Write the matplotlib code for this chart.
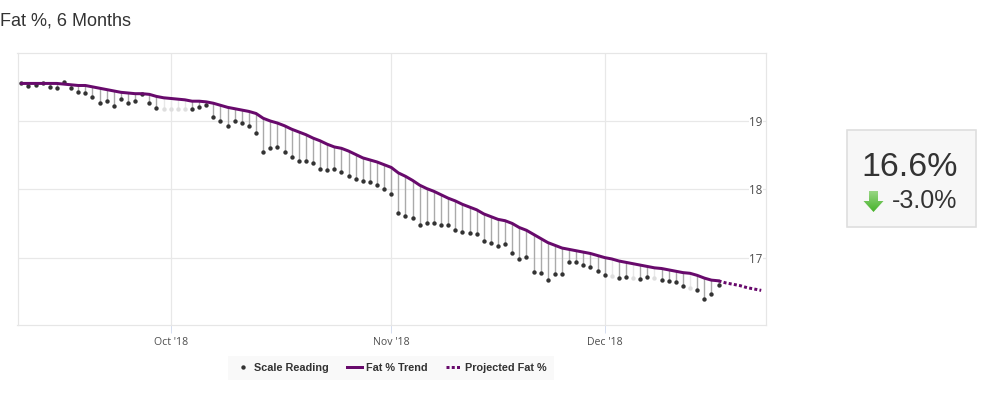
import numpy as np
import pandas as pd
import matplotlib
matplotlib.use("Agg")
import matplotlib.pyplot as plt
import matplotlib.dates as mdates
from matplotlib.lines import Line2D
from matplotlib.patches import Rectangle, Polygon

W, H = 999, 393

title_text = "Fat %, 6 Months"
series_labels = ["Scale Reading", "Fat % Trend", "Projected Fat %"]
current_value = "16.6%"
change_value = "-3.0%"

start_date = "2018-09-10"
projection_start = "2018-12-17"

readings = [
    19.55,19.51,19.53,19.56,19.50,19.49,19.57,19.49,19.42,19.41,
    19.35,19.27,19.29,19.22,19.32,19.26,19.30,19.40,19.26,19.19,
    19.18,19.18,19.18,19.18,19.18,19.20,19.23,19.06,19.00,18.92,
    19.00,18.97,18.93,18.82,18.54,18.60,18.62,18.54,18.48,18.42,
    18.41,18.39,18.30,18.28,18.30,18.26,18.19,18.15,18.12,18.10,
    18.06,18.00,17.93,17.66,17.61,17.58,17.48,17.50,17.51,17.48,
    17.48,17.41,17.37,17.36,17.35,17.25,17.21,17.17,17.20,17.06,
    16.98,17.01,16.79,16.78,16.67,16.76,16.76,16.93,16.93,16.89,
    16.86,16.81,16.75,16.73,16.70,16.71,16.70,16.69,16.72,16.70,
    16.67,16.65,16.64,16.59,16.56,16.53,16.39,16.47,16.60,
]
trend = [
    19.55,19.55,19.55,19.55,19.55,19.55,19.54,19.53,19.52,19.52,
    19.50,19.48,19.46,19.44,19.42,19.41,19.40,19.40,19.39,19.36,
    19.34,19.33,19.32,19.31,19.29,19.29,19.28,19.26,19.23,19.20,
    19.18,19.16,19.14,19.11,19.04,19.00,18.97,18.93,18.88,18.84,
    18.80,18.75,18.71,18.66,18.62,18.60,18.56,18.51,18.46,18.43,
    18.40,18.36,18.32,18.24,18.19,18.13,18.06,18.01,17.97,17.92,
    17.87,17.83,17.78,17.74,17.70,17.64,17.60,17.56,17.54,17.50,
    17.44,17.40,17.34,17.28,17.22,17.18,17.14,17.12,17.10,17.08,
    17.06,17.03,17.00,16.98,16.95,16.93,16.91,16.89,16.87,16.85,
    16.84,16.82,16.80,16.78,16.77,16.74,16.70,16.67,16.66,
]
projected = [16.66,16.63,16.61,16.59,16.56,16.54,16.52]
# readings drawn faint in the reference (days without a weigh-in)
faint_positions = [20,21,22,23,83,86,89,94]

dates = pd.date_range(start_date, periods=len(readings), freq="D")
proj_dates = pd.date_range(projection_start, periods=len(projected), freq="D")
readings_a = np.array(readings)
trend_a = np.array(trend)
faint = np.zeros(len(readings), dtype=bool)
faint[faint_positions] = True

PURPLE = "#680a6c"
DOT = "#333333"
GRID = "#e8e8e8"
px = 72 / 100

fig = plt.figure(figsize=(W / 100, H / 100), dpi=100, facecolor="white")
L, R, T, B = 17.5, 765.7, 52.7, 325.0
ax = fig.add_axes([L / W, 1 - B / H, (R - L) / W, (B - T) / H])

ax.vlines(dates[~faint], readings_a[~faint], trend_a[~faint], color="#aaaaaa", lw=1.4 * px, zorder=2)
ax.vlines(dates[faint], readings_a[faint], trend_a[faint], color="#e8e8e8", lw=1.4 * px, zorder=2)
ax.plot(dates[~faint], readings_a[~faint], ls="none", marker="o", ms=4.4 * px, color=DOT, mew=0, zorder=3)
ax.plot(dates[faint], readings_a[faint], ls="none", marker="o", ms=4.4 * px, color="#dedede", mew=0, zorder=3)
ax.plot(dates, trend_a, color=PURPLE, lw=3 * px, solid_capstyle="round", solid_joinstyle="round", zorder=4)
ax.plot(proj_dates, projected, color=PURPLE, lw=3 * px, ls=(0, (1, 0.75)), dash_capstyle="butt", zorder=4)

ax.set_xlim(dates[0] - pd.Timedelta(days=0.53), dates[0] + pd.Timedelta(days=104.63))
ax.set_ylim(16.013, 20.0)
ax.xaxis.set_major_locator(mdates.MonthLocator())
ax.xaxis.set_major_formatter(mdates.DateFormatter("%b '%y"))
ax.set_yticks([17, 18, 19])
ax.yaxis.tick_right()
ax.grid(True, color=GRID, lw=1.2 * px, zorder=0)
ax.set_axisbelow(True)
for s in ax.spines.values():
    s.set_color("#e6e6e6")
    s.set_linewidth(1.2 * px)
ax.tick_params(axis="x", length=8 * px, width=0.8 * px, color="#ccd6eb", pad=3.2,
               labelsize=7.6, labelcolor="#4d4d4d")
ax.tick_params(axis="y", length=0, pad=-16.5 * px, labelsize=8.4, labelcolor="#4d4d4d")
for lab in ax.get_xticklabels() + ax.get_yticklabels():
    lab.set_fontfamily("Open Sans")
for lab in ax.get_yticklabels():
    lab.set_bbox(dict(facecolor="white", edgecolor="none", pad=0.3))

handles = [
    Line2D([], [], ls="none", marker="o", ms=4.4 * px, color=DOT, mew=0),
    Line2D([], [], color=PURPLE, lw=3 * px),
    Line2D([], [], color=PURPLE, lw=3 * px, ls=(0, (1, 0.75)), dash_capstyle="butt"),
]
leg = fig.legend(handles, series_labels, ncol=3, loc="center", bbox_to_anchor=(391 / W, 1 - 368 / H),
                 frameon=True, facecolor="#f9f9f9", edgecolor="none", fancybox=False, framealpha=1,
                 prop={"family": "Liberation Sans", "weight": "bold", "size": 7.8},
                 handlelength=1.4, handletextpad=0.37, columnspacing=1.67, borderpad=0.62)
for t in leg.get_texts():
    t.set_color("#333333")

over = fig.add_axes([0, 0, 1, 1], facecolor="none", zorder=5)
over.set_xlim(0, W)
over.set_ylim(H, 0)
over.axis("off")
over.add_patch(Rectangle((847.3, 130), 128.4, 97, facecolor="#f7f7f7", edgecolor="#dddddd", lw=1.6 * px))
over.text(910, 163.5, current_value, family="Liberation Sans", fontsize=24.5, color="#333333",
          ha="center", va="center_baseline")
over.text(924.5, 199, change_value, family="Liberation Sans", fontsize=18, color="#333333",
          ha="center", va="center_baseline")
arrow = Polygon([(869, 191), (878, 191), (878, 201), (883.5, 201), (873.5, 212), (863.5, 201), (869, 201)],
                closed=True, facecolor="none", edgecolor="none")
over.add_patch(arrow)
grad = np.linspace(0, 1, 64).reshape(-1, 1, 1)
top = np.array([0.60, 0.84, 0.52]).reshape(1, 1, 3)
bot = np.array([0.27, 0.70, 0.16]).reshape(1, 1, 3)
im = over.imshow(top + (bot - top) * grad, extent=(863, 884, 212, 191), aspect="auto", zorder=6)
im.set_clip_path(arrow)
over.set_xlim(0, W)
over.set_ylim(H, 0)

fig.text(0.3 / W, 1 - 25 / H, title_text, family="Liberation Sans", fontsize=13, color="#333333",
         ha="left", va="baseline")

fig.savefig("out.png", dpi=100)
